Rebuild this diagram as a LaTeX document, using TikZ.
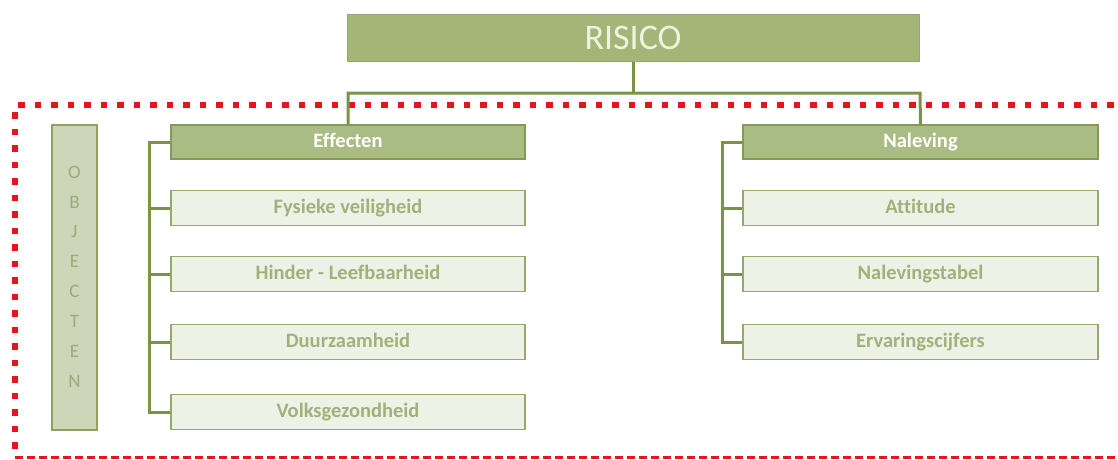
\documentclass[tikz,border=0pt]{standalone}
\usepackage{fontspec}
\setmainfont{Carlito}[Ligatures=NoCommon]
\definecolor{topfill}{HTML}{A3B678}
\definecolor{topborder}{HTML}{95AA68}
\definecolor{toptext}{HTML}{EEF3E0}
\definecolor{headfill}{HTML}{A9BC84}
\definecolor{headborder}{HTML}{849B55}
\definecolor{subfill}{HTML}{EEF1E6}
\definecolor{subborder}{HTML}{95AA6A}
\definecolor{subtext}{HTML}{A0B27A}
\definecolor{objfill}{HTML}{CDD6B8}
\definecolor{objborder}{HTML}{8FA262}
\definecolor{objtext}{HTML}{9AAC76}
\definecolor{linkcol}{HTML}{7A9345}
\definecolor{redbox}{HTML}{E8141B}
\tikzset{
  topbox/.style={draw=topborder, line width=1pt, fill=topfill, minimum width=572pt, minimum height=47pt, inner sep=0pt, text=toptext, font=\fontsize{36}{36}\selectfont},
  headbox/.style={draw=headborder, line width=1.8pt, fill=headfill, minimum width=354pt, minimum height=34pt, inner sep=0pt, text height=13.5pt, text depth=3.5pt, text=white, font=\bfseries\fontsize{20.5}{20.5}\selectfont},
  subbox/.style={draw=subborder, line width=1.8pt, fill=subfill, minimum width=354pt, minimum height=35pt, inner sep=0pt, text height=13.5pt, text depth=3.5pt, text=subtext, font=\bfseries\fontsize{20.5}{20.5}\selectfont},
  link/.style={draw=linkcol, line width=3pt},
}
\begin{document}
\begin{tikzpicture}[x=1pt,y=-1pt]
\useasboundingbox (0,0) rectangle (1118,459);
% red frame
\draw[redbox, line width=6.5pt, dash pattern=on 6.5pt off 10pt] (1130,105) -- (15,105) -- (15,452);
\draw[redbox, line width=2.8pt, dash pattern=on 8pt off 4pt] (15,457.5) -- (1130,457.5);
% nodes
\node[topbox] (risico) at (633,37.5) {RISICO};
\node[headbox] (eff) at (348,142) {Effecten};
\node[subbox] (fys) at (348,208) {Fysieke veiligheid};
\node[subbox] (hin) at (348,274) {Hinder - Leefbaarheid};
\node[subbox] (duu) at (348,342) {Duurzaamheid};
\node[subbox] (vol) at (348,412) {Volksgezondheid};
\node[headbox, minimum width=355pt] (nal) at (920.5,142) {Naleving};
\node[subbox, minimum width=355pt] (att) at (920.5,208) {Attitude};
\node[subbox, minimum width=355pt] (nlt) at (920.5,274) {Nalevingstabel};
\node[subbox, minimum width=355pt] (erv) at (920.5,342) {Ervaringscijfers};
\node[draw=objborder, line width=1.8pt, fill=objfill, minimum width=45pt, minimum height=305pt, inner sep=0pt] (obj) at (74.5,277.5) {};
\foreach \l [count=\i from 0] in {O,B,J,E,C,T,E,N}
  \node[text=objtext, font=\fontsize{19}{19}\selectfont, inner sep=0pt] (obj\i) at (74.5,172+\i*29.9) {\l};
% connectors
\coordinate (hl) at (348,93);
\coordinate (hr) at (920,93);
\draw[link] (risico.south) -- (risico.south |- hl);
\draw[link] (eff.north) -- (hl) -- (hr) -- (nal.north);
\coordinate (lt) at (149,142);
\draw[link] (eff.west) -- (lt) -- (lt |- vol.west) -- (vol.west);
\foreach \n in {fys,hin,duu} \draw[link] (lt |- \n.west) -- (\n.west);
\coordinate (rt) at (722,142);
\draw[link] (nal.west) -- (rt) -- (rt |- erv.west) -- (erv.west);
\foreach \n in {att,nlt} \draw[link] (rt |- \n.west) -- (\n.west);
\end{tikzpicture}
\end{document}
